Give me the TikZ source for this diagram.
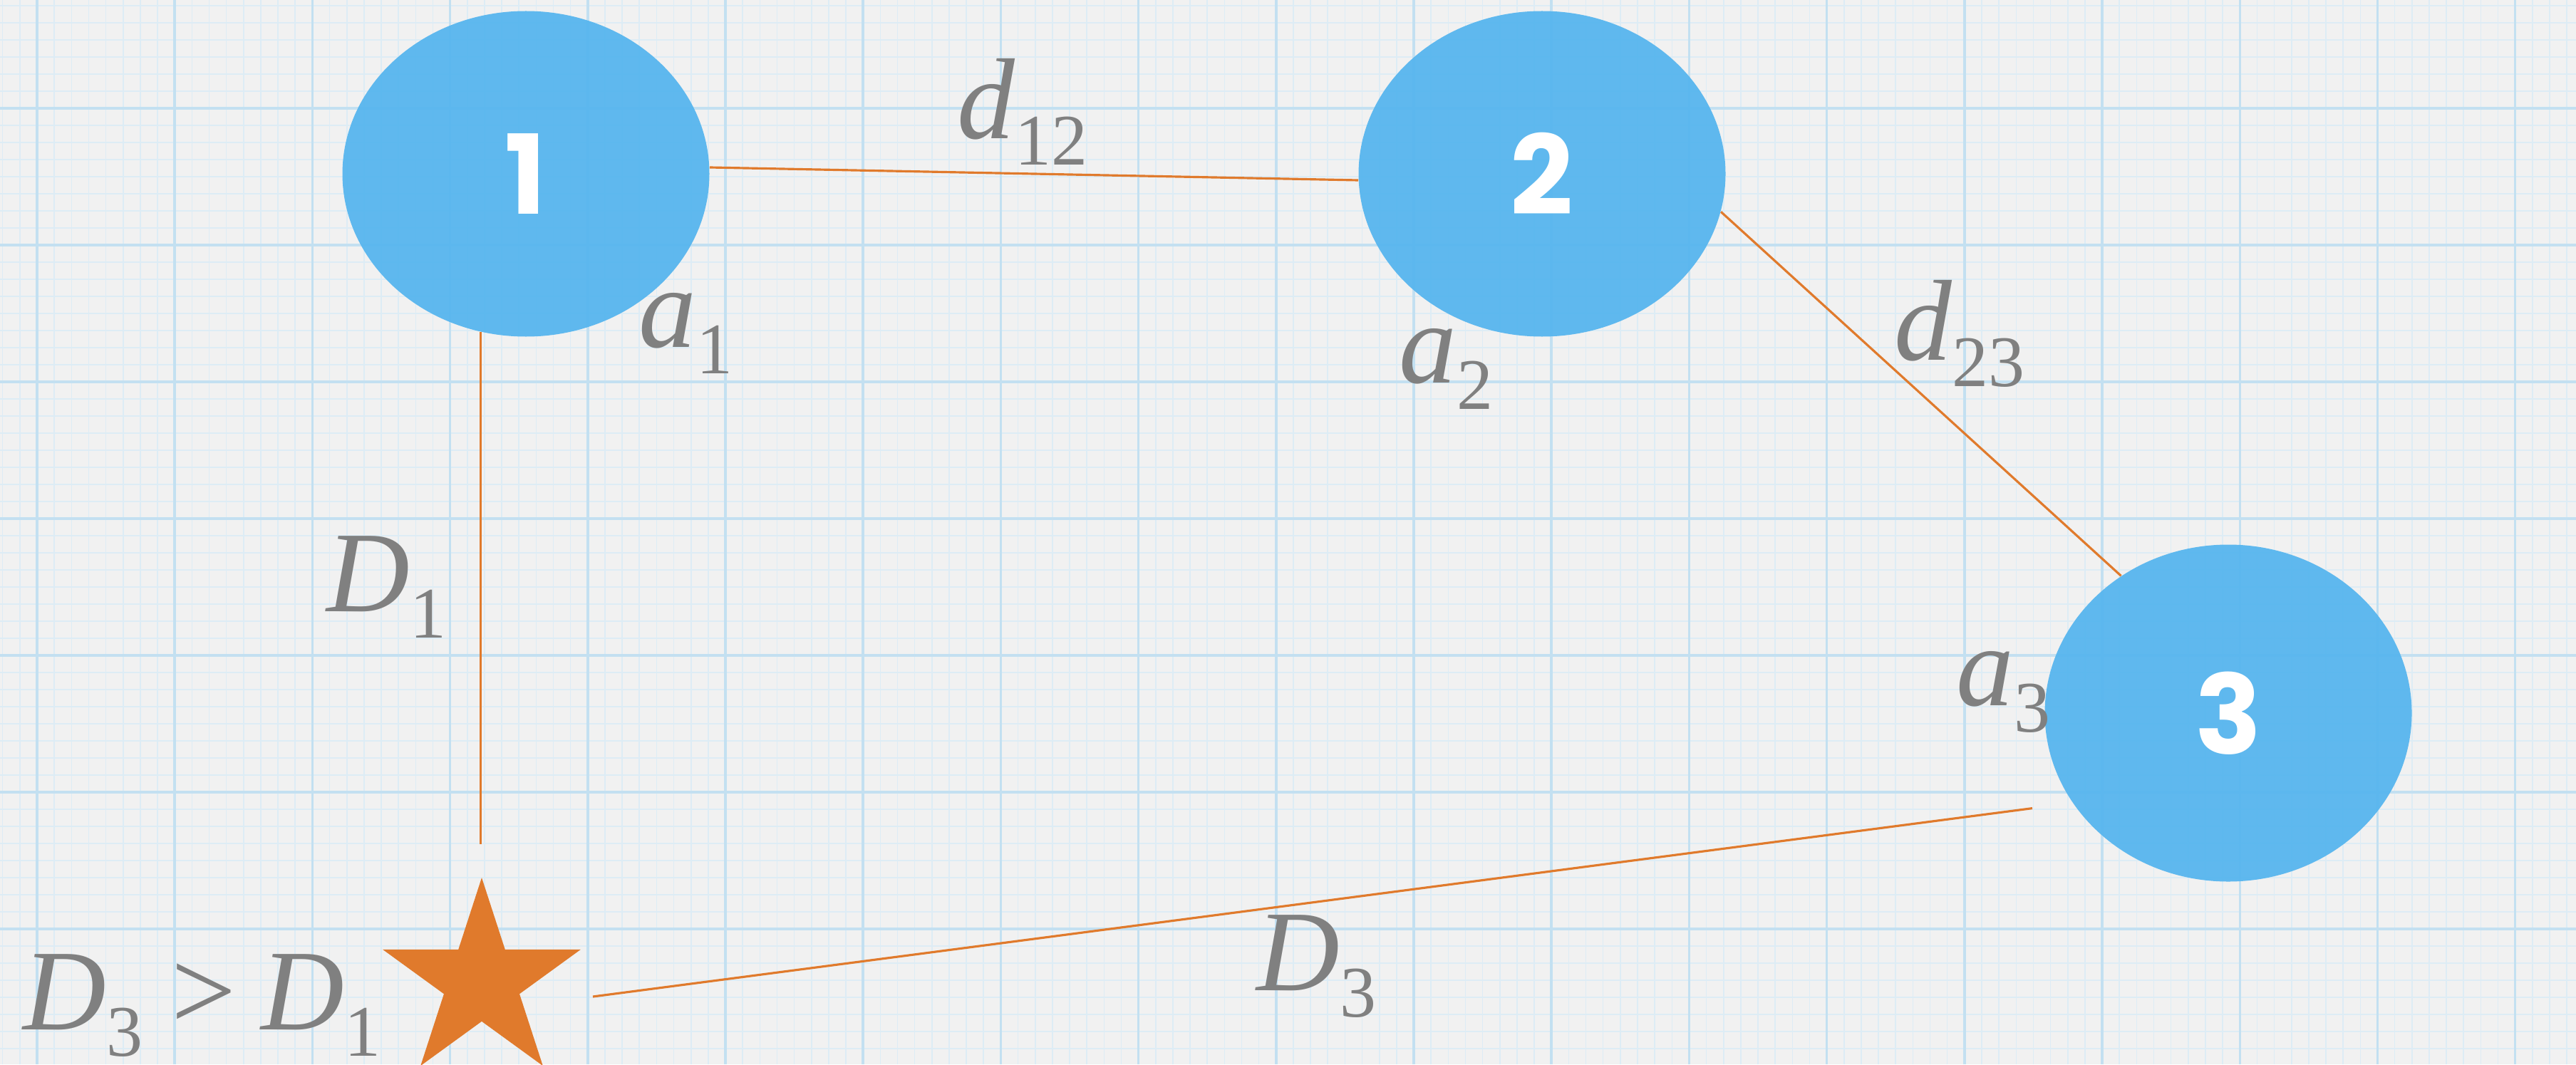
\documentclass[tikz,border=0pt]{standalone}
\usepackage{fontspec}
\setmainfont{Liberation Serif}
\newfontfamily\digitfont{Poppins}
\usetikzlibrary{shapes.geometric}

\definecolor{paper}{RGB}{241,241,241}
\definecolor{gridminor}{RGB}{221,236,245}
\definecolor{gridmajor}{RGB}{195,224,241}
\definecolor{siteblue}{RGB}{86,181,238}
\definecolor{linkorange}{RGB}{224,122,44}
\definecolor{labelgray}{RGB}{128,128,128}

% letter with a lowered, upright index
\newcommand{\lbl}[2]{\textit{#1}\raisebox{-0.37cm}{\fontsize{29}{29}\selectfont #2}}

\begin{document}
\begin{tikzpicture}[
  site/.style={ellipse,fill=siteblue,fill opacity=0.94,text opacity=1,
    minimum width=5.15cm,minimum height=4.57cm,inner sep=0pt,text=white,
    font=\digitfont\bfseries\fontsize{44}{44}\selectfont},
  link/.style={draw=linkorange,line width=0.9pt},
  tag/.style={anchor=base west,inner sep=0pt,text=labelgray,
    font=\fontsize{46}{46}\selectfont}
]
\useasboundingbox (0,0) rectangle (36.15,14.94);
\fill[paper] (0,0) rectangle (36.15,14.94);

% graph paper
\foreach \k in {-2,...,148}
  \draw[gridminor,line width=0.45pt] (0.52+\k*0.2415,0) -- ++(0,14.94);
\foreach \k in {-6,...,55}
  \draw[gridminor,line width=0.45pt] (0,13.42-\k*0.24) -- ++(36.15,0);
\foreach \k in {0,...,18}
  \draw[gridmajor,line width=1pt] (0.52+\k*1.932,0) -- ++(0,14.94);
\foreach \k in {-1,...,6}
  \draw[gridmajor,line width=1pt] (0,13.42-\k*1.92) -- ++(36.15,0);

% sites
\node[site] (n1) at (7.38,12.50) {1};
\node[site] (n2) at (21.64,12.50) {2};
\node[site,minimum height=4.73cm] (n3) at (31.27,4.93) {3};
\node[star,star points=5,star point ratio=2.618,minimum size=2.92cm,
  inner sep=0pt,fill=linkorange] (tgt) at (6.76,1.16) {};

% links
\draw[link] (n1.2) -- (n2.182);
\draw[link] (n2.-12) -- (n3.128);
\draw[link,shorten >=0.45cm] (n1.254.6) -- (n1.254.6 |- tgt.north);
\coordinate (d3s) at ([shift={(1.56,-0.21)}]tgt.center);
\draw[link,shorten >=0.57cm] (d3s) -- (n3.210.5);

% labels
\node[tag] (ld12) at (13.43,12.99) {\lbl{d}{12}};
\node[tag] (la1) at (8.96,10.07) {\lbl{a}{1}};
\node[tag] (la2) at (19.63,9.57) {\lbl{a}{2}};
\node[tag] (ld23) at (26.58,9.89) {\lbl{d}{23}};
\node[tag] (lD1) at (4.58,6.36) {\lbl{D}{1}};
\node[tag] (la3) at (27.45,5.04) {\lbl{a}{3}};
\node[tag] (lD3) at (17.63,1.04) {\lbl{D}{3}};
\node[tag] (lcmp) at (0.32,0.49) {\lbl{D}{3}\hspace{0.4cm}>\hspace{0.35cm}\lbl{D}{1}};
\end{tikzpicture}
\end{document}
